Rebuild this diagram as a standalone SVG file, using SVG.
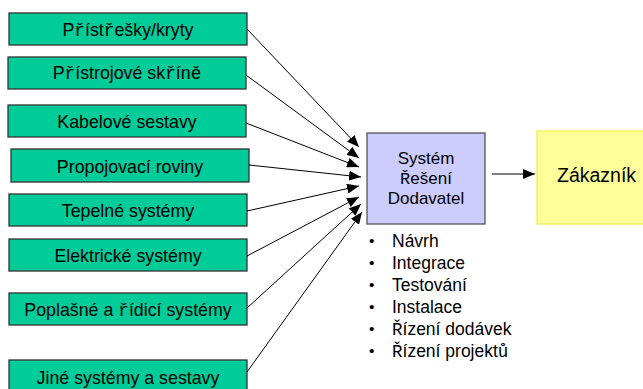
<svg xmlns="http://www.w3.org/2000/svg" width="643" height="389" viewBox="0 0 643 389">
<style>
text{font-family:"Liberation Sans",Arial,sans-serif;fill:#000}
.src rect{fill:#00cc99;stroke:#333;stroke-width:1.3}
.src text{font-size:17.8px;text-anchor:middle}
.m{font-family:"Liberation Mono","Courier New",monospace}
.con line{stroke:#000;stroke-width:1;marker-end:url(#ah)}
.bl text{font-size:17.5px}
.bl .d{font-size:15.5px}
</style>
<defs>
<marker id="ah" markerUnits="userSpaceOnUse" markerWidth="13" markerHeight="10" refX="12" refY="5" orient="auto">
<path d="M0,0 L12,5 L0,10 Z" fill="#000"/>
</marker>
</defs>
<rect width="643" height="389" fill="#fff"/>
<g id="n1" class="src"><rect x="9" y="13" width="238" height="32"/><text x="128" y="36">P<tspan class="m">ř</tspan>íst<tspan class="m">ř</tspan>ešky/kryty</text></g>
<g id="n2" class="src"><rect x="8" y="57" width="238" height="32"/><text x="127" y="79">P<tspan class="m">ř</tspan>ístrojové sk<tspan class="m">ř</tspan>ín<tspan class="m">ě</tspan></text></g>
<g id="n3" class="src"><rect x="8" y="105" width="238" height="32"/><text x="127" y="128">Kabelové sestavy</text></g>
<g id="n4" class="src"><rect x="11" y="149" width="238" height="33"/><text x="130" y="173">Propojovací roviny</text></g>
<g id="n5" class="src"><rect x="9" y="194" width="238" height="32"/><text x="128" y="217">Tepelné systémy</text></g>
<g id="n6" class="src"><rect x="9" y="239" width="238" height="32"/><text x="128" y="262">Elektrické systémy</text></g>
<g id="n7" class="src"><rect x="9" y="293" width="238" height="32"/><text x="128" y="316">Poplašné a <tspan class="m">ř</tspan>ídicí systémy</text></g>
<g id="n8" class="src"><rect x="9" y="360" width="238" height="40"/><text x="128" y="384">Jiné systémy a sestavy</text></g>
<g id="supplier"><rect x="367" y="133" width="118" height="91" fill="#ccccff" stroke="#555" stroke-width="1.3"/>
<text x="426" y="164" font-size="17px" text-anchor="middle">Systém</text>
<text x="426" y="184" font-size="17px" text-anchor="middle"><tspan class="m">Ř</tspan>ešení</text>
<text x="426" y="204" font-size="17px" text-anchor="middle">Dodavatel</text></g>
<g id="customer"><rect x="537" y="131" width="110" height="93" fill="#ffff99" stroke="#eeee55" stroke-width="1.3"/>
<text x="557" y="182" font-size="19.5px">Zákazník</text></g>
<g id="bullets" class="bl">
<text class="d" x="369" y="246">•</text><text x="392" y="247">Návrh</text>
<text class="d" x="369" y="268">•</text><text x="392" y="269">Integrace</text>
<text class="d" x="369" y="290">•</text><text x="392" y="291">Testování</text>
<text class="d" x="369" y="312">•</text><text x="392" y="313">Instalace</text>
<text class="d" x="369" y="334">•</text><text x="392" y="335"><tspan class="m">Ř</tspan>ízení dodávek</text>
<text class="d" x="369" y="356">•</text><text x="392" y="357"><tspan class="m">Ř</tspan>ízení projekt<tspan class="m">ů</tspan></text>
</g>
<g id="connectors" class="con">
<line x1="247" y1="29" x2="359" y2="147"/>
<line x1="246" y1="75" x2="359" y2="158"/>
<line x1="246" y1="123" x2="359" y2="167"/>
<line x1="249" y1="165" x2="361" y2="177"/>
<line x1="247" y1="211" x2="359" y2="186"/>
<line x1="247" y1="256" x2="359" y2="197"/>
<line x1="247" y1="308" x2="361" y2="204"/>
<line x1="247" y1="372" x2="362" y2="212"/>
<line x1="492" y1="174" x2="535" y2="174"/>
</g>
</svg>
